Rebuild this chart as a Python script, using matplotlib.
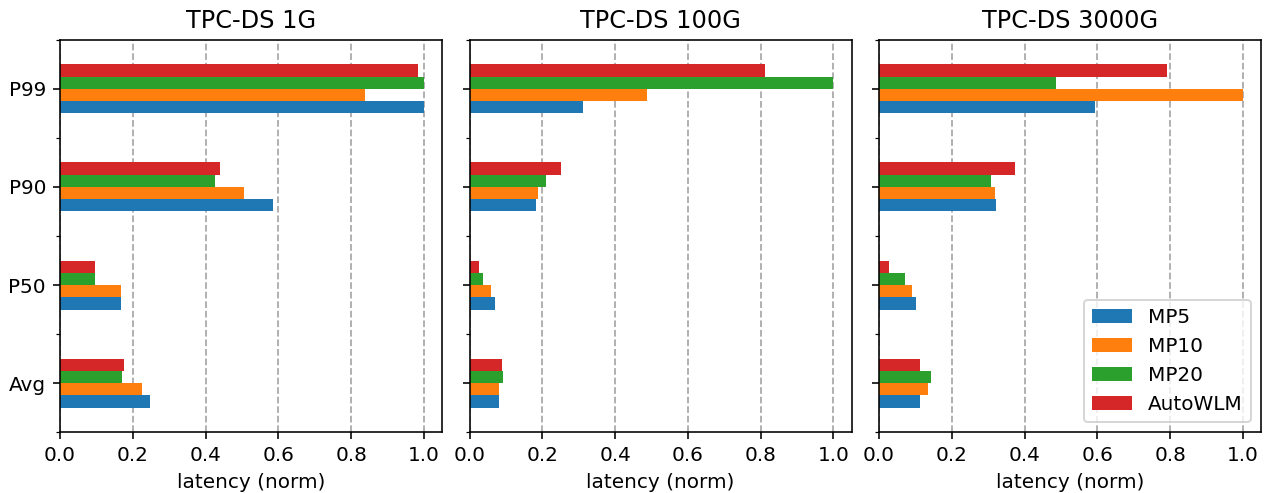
import numpy as np
import matplotlib
matplotlib.use("Agg")
import matplotlib.pyplot as plt
from matplotlib.ticker import MultipleLocator

# latency values (normalized), order: Avg, P50, P90, P99
categories = ["Avg", "P50", "P90", "P99"]
series = ["MP5", "MP10", "MP20", "AutoWLM"]
titles = ["TPC-DS 1G", "TPC-DS 100G", "TPC-DS 3000G"]

ds1g_mp5 = [0.247, 0.168, 0.585, 1.000]
ds1g_mp10 = [0.225, 0.168, 0.505, 0.838]
ds1g_mp20 = [0.170, 0.096, 0.426, 1.000]
ds1g_auto = [0.176, 0.096, 0.440, 0.983]

ds100g_mp5 = [0.080, 0.069, 0.184, 0.313]
ds100g_mp10 = [0.082, 0.060, 0.187, 0.489]
ds100g_mp20 = [0.093, 0.036, 0.211, 1.000]
ds100g_auto = [0.088, 0.025, 0.252, 0.812]

ds3000g_mp5 = [0.113, 0.102, 0.322, 0.593]
ds3000g_mp10 = [0.134, 0.091, 0.319, 1.000]
ds3000g_mp20 = [0.143, 0.071, 0.308, 0.486]
ds3000g_auto = [0.113, 0.027, 0.374, 0.791]

panels = [
    [ds1g_mp5, ds1g_mp10, ds1g_mp20, ds1g_auto],
    [ds100g_mp5, ds100g_mp10, ds100g_mp20, ds100g_auto],
    [ds3000g_mp5, ds3000g_mp10, ds3000g_mp20, ds3000g_auto],
]

colors = ["#1f77b4", "#ff7f0e", "#2ca02c", "#d62728"]
bar_h = 0.125
y = np.arange(len(categories))

fig, axes = plt.subplots(1, 3, figsize=(1266 / 144, 493 / 144), dpi=144, sharey=True)
fig.subplots_adjust(left=0.0474, right=0.9961, bottom=0.1237, top=0.9189, wspace=0.072)

for ax, title, data in zip(axes, titles, panels):
    ax.set_axisbelow(True)
    ax.grid(axis="x", linestyle="--", color="#aaaaaa", linewidth=0.9)
    for i, (name, vals) in enumerate(zip(series, data)):
        offset = (i - 1.5) * bar_h
        ax.barh(y + offset, vals, height=bar_h, color=colors[i], label=name)
    ax.set_title(title, fontsize=12)
    ax.set_xlabel("latency (norm)")
    ax.set_xlim(0, 1.05)
    ax.set_xticks([0.0, 0.2, 0.4, 0.6, 0.8, 1.0])
    ax.set_ylim(-0.5, 3.5)
    ax.yaxis.set_minor_locator(MultipleLocator(0.5))

axes[0].set_yticks(y)
axes[0].set_yticklabels(categories)
axes[2].legend(loc="lower right")

fig.savefig("out.png", dpi=144)
